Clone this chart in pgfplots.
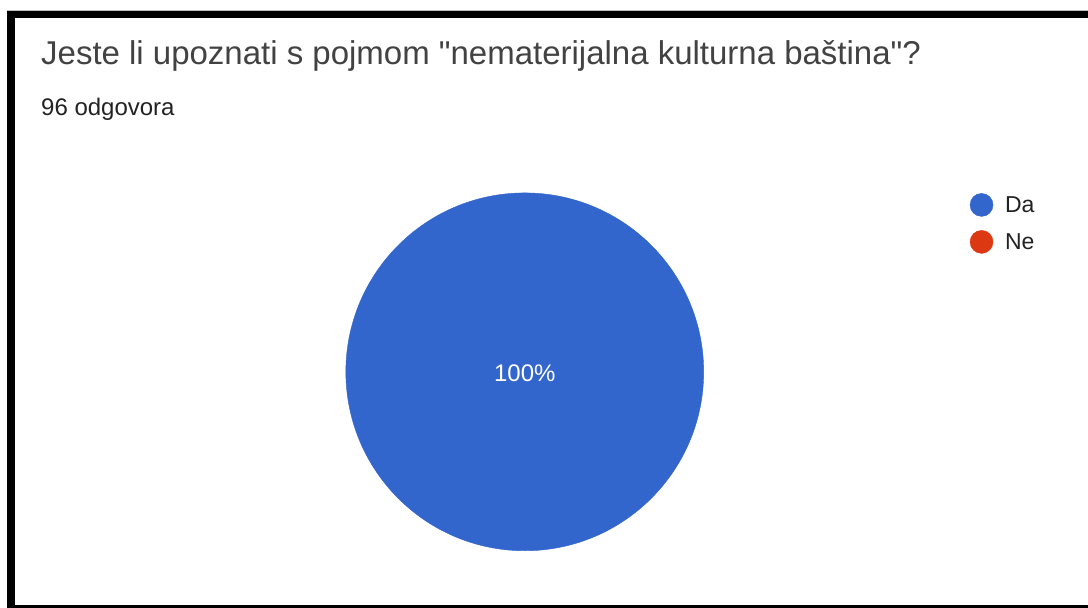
\documentclass[border=0pt]{standalone}
\usepackage{pgfplots}
\pgfplotsset{compat=1.18}
\usepackage{fontspec}
\setmainfont{Liberation Sans}[Ligatures=TeXOff]

\definecolor{pieblue}{RGB}{51,102,204}
\definecolor{piered}{RGB}{220,57,18}
\definecolor{titlegray}{RGB}{66,66,66}
\definecolor{textgray}{RGB}{34,34,34}

\begin{document}
\begin{tikzpicture}
\begin{axis}[
  width=1088pt, height=608pt, scale only axis,
  xmin=0, xmax=1088, ymin=0, ymax=608, y dir=reverse,
  hide axis, clip=false,
]
% background and frame
\fill[white] (axis cs:0,0) rectangle (axis cs:1088,608);
\draw[black!25, line width=1pt] (axis cs:7,10.5) -- (axis cs:1088,10.5);
\fill[black] (axis cs:7,11) rectangle (axis cs:1088,18);
\fill[black] (axis cs:7,11) rectangle (axis cs:15,608);
\fill[black] (axis cs:7,605) rectangle (axis cs:1088,608);

% pie: Da 96 of 96 answers, Ne 0 -> one full disc
\addplot[pieblue, only marks, mark=*, mark size=179pt,
  mark options={draw=pieblue, fill=pieblue},
  nodes near coords={100\%}, nodes near coords align=center,
  every node near coord/.append style={white, font=\fontsize{24}{24}\selectfont,
    anchor=center, yshift=-1pt}]
  coordinates {(525,372)};

% legend
\addplot[pieblue, only marks, mark=*, mark size=11.5pt,
  mark options={draw=pieblue, fill=pieblue}] coordinates {(982,205)};
\addplot[piered, only marks, mark=*, mark size=11.5pt,
  mark options={draw=piered, fill=piered}] coordinates {(982,242)};
\node[textgray, font=\fontsize{23}{23}\selectfont, anchor=base west]
  at (axis cs:1002,213) {Da};
\node[textgray, font=\fontsize{23}{23}\selectfont, anchor=base west]
  at (axis cs:1002,250) {Ne};

% titles
\node[titlegray, font=\fontsize{33}{33}\selectfont, anchor=base west, inner sep=0pt]
  at (axis cs:41,65) {Jeste li upoznati s pojmom "nematerijalna kulturna baština"?};
\node[textgray, font=\fontsize{24}{24}\selectfont, anchor=base west, inner sep=0pt]
  at (axis cs:41,116) {96 odgovora};
\end{axis}
\end{tikzpicture}
\end{document}
